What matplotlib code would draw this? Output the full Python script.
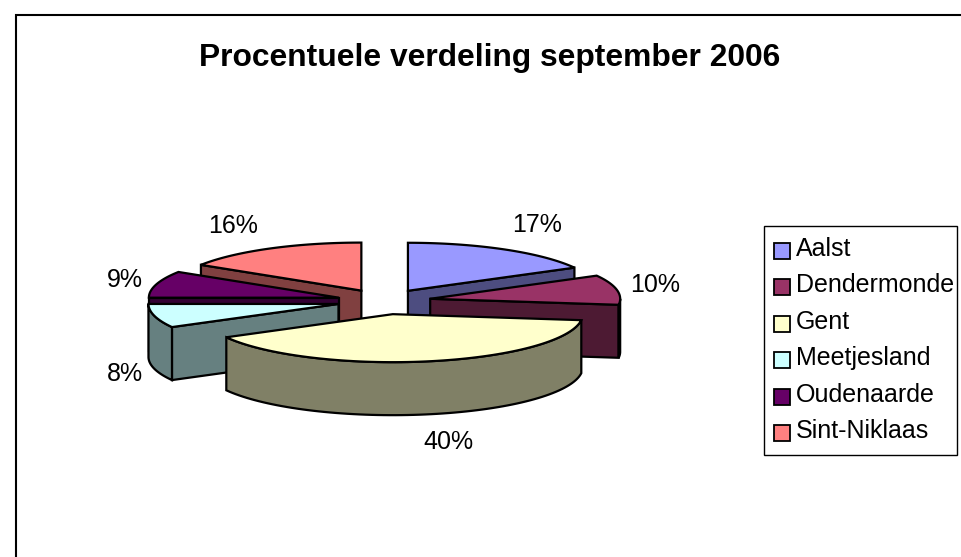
import numpy as np
import matplotlib
matplotlib.use('Agg')
import matplotlib.pyplot as plt
from matplotlib.patches import Polygon, Rectangle

plt.rcParams['font.family'] = ['Liberation Sans', 'DejaVu Sans']

title = 'Procentuele verdeling september 2006'
regions = ['Aalst', 'Dendermonde', 'Gent', 'Meetjesland', 'Oudenaarde', 'Sint-Niklaas']
percent = [17, 10, 40, 8, 9, 16]
colors = ['#9999FF', '#993366', '#FFFFCC', '#CCFFFF', '#660066', '#FF8080']
# offset of each % label from the pie centre, pixels
labelDx = [153, 271, 64, -259, -259, -151]
labelDy = [-76, -16, 141, 73, -21, -75]

# geometry of the pie in image pixels
cx, cy = 384, 301
a, b = 190, 48
depth = 53
explode = 47
lw = 1.6

fig = plt.figure(figsize=(9.62, 5.57), dpi=100)
ax = fig.add_axes([0, 0, 1, 1])
ax.set_xlim(0, 962)
ax.set_ylim(557, 0)
ax.axis('off')

# chart frame, right and bottom run off the picture
ax.add_patch(Rectangle((16, 15), 1000, 600, fc='white', ec='k', lw=1.5))
ax.text(490, 58, title, fontsize=22.9, fontweight='bold', ha='center', va='center')


def ell(x0, y0, t):
    return np.column_stack([x0 + a * np.sin(t), y0 - b * np.cos(t)])


def shade(c):
    return tuple(0.5 * v for v in matplotlib.colors.to_rgb(c))


def drawSlice(start, end, col):
    mid = (start + end) / 2
    x0 = cx + explode * np.sin(mid)
    y0 = cy - explode * b / a * np.cos(mid)
    # the front slice sits a bit lower than the plain explode gives
    if np.cos(mid) < -0.9:
        y0 = y0 + 1.5
    apex = np.array([x0, y0])
    down = np.array([0, depth])
    t = np.linspace(start, end, 80)
    arc = ell(x0, y0, t)
    side = shade(col)
    # radial walls that face the viewer
    if np.sin(start) < 0:
        ax.add_patch(Polygon([apex, arc[0], arc[0] + down, apex + down], fc=side, ec='k', lw=lw))
    if np.sin(end) > 0:
        ax.add_patch(Polygon([apex, arc[-1], arc[-1] + down, apex + down], fc=side, ec='k', lw=lw))
    # outer wall, only the front half of the rim
    t2 = np.linspace(max(start, np.pi / 2), min(end, 3 * np.pi / 2), 80)
    if t2[-1] > t2[0]:
        rim = ell(x0, y0, t2)
        ax.add_patch(Polygon(np.vstack([rim, (rim + down)[::-1]]), fc=side, ec='k', lw=lw))
    ax.add_patch(Polygon(np.vstack([apex, arc]), fc=col, ec='k', lw=lw))


edges = np.cumsum([0] + percent) / sum(percent) * 2 * np.pi
# back to front
for i in [5, 0, 4, 1, 3, 2]:
    drawSlice(edges[i], edges[i + 1], colors[i])

for i, p in enumerate(percent):
    ax.text(cx + labelDx[i], cy + labelDy[i], '%d%%' % p, fontsize=18, ha='center', va='center')

# legend
ax.add_patch(Rectangle((764, 226), 193, 229, fc='white', ec='k', lw=1))
for i, name in enumerate(regions):
    y = 249 + i * 36.4
    ax.add_patch(Rectangle((774, y - 6), 16, 16, fc=colors[i], ec='k', lw=1.3))
    ax.text(796, y, name, fontsize=18, ha='left', va='center')

fig.savefig('out.png', dpi=100)
